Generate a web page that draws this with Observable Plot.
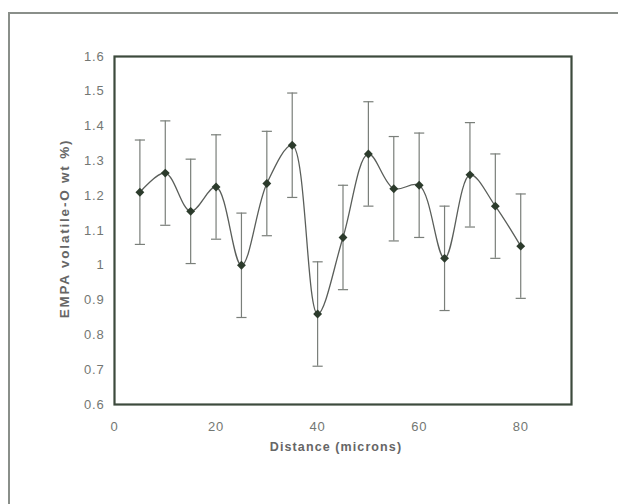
<!DOCTYPE html>
<html>
<head>
<meta charset="utf-8">
<script src="https://cdn.jsdelivr.net/npm/d3@7"></script>
<script src="https://cdn.jsdelivr.net/npm/@observablehq/plot@0.6"></script>
<style>
  html, body { margin: 0; padding: 0; background: #fff; }
  #wrap { position: relative; width: 618px; height: 504px; overflow: hidden; }
  #border { position: absolute; left: 8px; top: 12px; width: 620px; height: 520px;
            border-left: 2px solid #8a8f8a; border-top: 2px solid #8a8f8a; box-sizing: border-box; }
  #chart { position: absolute; left: 0; top: 0; }
  #chart svg g[aria-label="x-axis tick label"] text,
  #chart svg g[aria-label="y-axis tick label"] text { letter-spacing: 0.8px; }
  #chart svg .xlab text { letter-spacing: 1.1px; }
  #chart svg .ylab text { letter-spacing: 1.8px; }
</style>
</head>
<body>
<div id="wrap"><div id="border"></div><div id="chart"></div></div>
<script>
const distance = [5, 10, 15, 20, 25, 30, 35, 40, 45, 50, 55, 60, 65, 70, 75, 80];
const volatileO = [1.21, 1.265, 1.155, 1.225, 1.0, 1.235, 1.345, 0.86, 1.08, 1.32, 1.22, 1.23, 1.02, 1.26, 1.17, 1.055];
const errors = [0.15, 0.15, 0.15, 0.15, 0.15, 0.15, 0.15, 0.15, 0.15, 0.15, 0.15, 0.15, 0.15, 0.15, 0.15, 0.15];
const xTicks = [0, 20, 40, 60, 80];
const yTicks = [0.6, 0.7, 0.8, 0.9, 1.0, 1.1, 1.2, 1.3, 1.4, 1.5, 1.6];

const data = distance.map((x, i) => ({x, y: volatileO[i], lo: volatileO[i] - errors[i], hi: volatileO[i] + errors[i]}));

const plot = Plot.plot({
  width: 618,
  height: 504,
  marginLeft: 114,
  marginRight: 47,
  marginTop: 56,
  marginBottom: 100,
  style: {fontFamily: "'Liberation Sans', Arial, sans-serif", fontSize: "13px", color: "#737773", background: "transparent"},
  x: {domain: [0, 90], ticks: xTicks, tickSize: 0, tickPadding: 17, label: null},
  y: {domain: [0.6, 1.6], ticks: yTicks, tickSize: 0, tickPadding: 10, label: null,
      tickFormat: d => String(+d.toFixed(1))},
  marks: [
    Plot.ruleX(data, {x: "x", y1: "lo", y2: "hi", stroke: "#7a7f7a", strokeWidth: 1.2}),
    Plot.link(data, {x1: d => d.x - 1, x2: d => d.x + 1, y1: "hi", y2: "hi", stroke: "#7a7f7a", strokeWidth: 1.2}),
    Plot.link(data, {x1: d => d.x - 1, x2: d => d.x + 1, y1: "lo", y2: "lo", stroke: "#7a7f7a", strokeWidth: 1.2}),
    Plot.line(data, {x: "x", y: "y", curve: "catmull-rom", stroke: "#5a5e5a", strokeWidth: 1.3}),
    Plot.dot(data, {x: "x", y: "y", symbol: "diamond2", r: 4, fill: "#2c3b2c", stroke: "none"}),
    Plot.frame({stroke: "#3d4a3d", strokeWidth: 2.2}),
    Plot.text(["Distance (microns)"], {frameAnchor: "bottom", dx: -7, dy: 46, fontWeight: "bold", fontSize: 12.5, fill: "#666", textAnchor: "middle", className: "xlab"}),
    Plot.text(["EMPA volatile-O wt %)"], {frameAnchor: "left", dx: -50, dy: -2, rotate: -90, fontWeight: "bold", fontSize: 13.5, fill: "#666", textAnchor: "middle", className: "ylab"})
  ]
});
document.getElementById("chart").appendChild(plot);
</script>
</body>
</html>
